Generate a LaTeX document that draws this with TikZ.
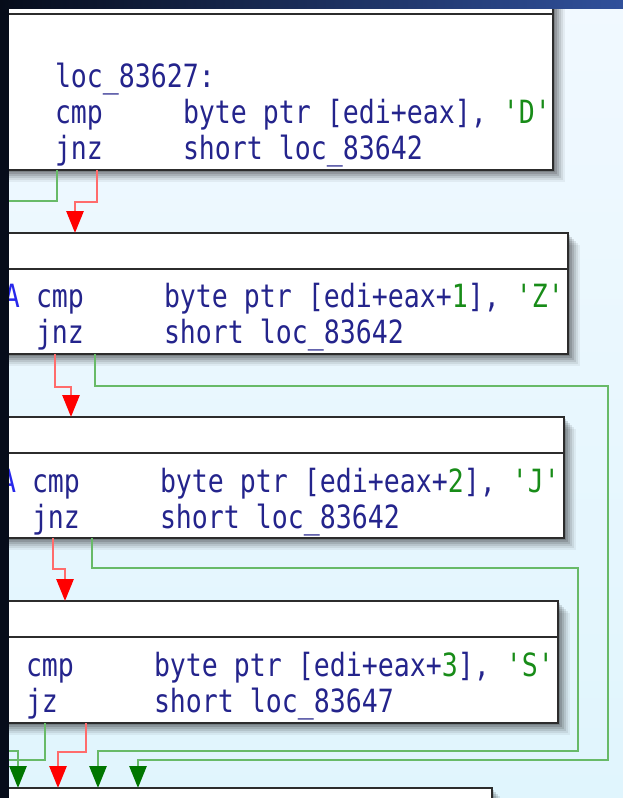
\documentclass[tikz,border=0pt]{standalone}
\usepackage{fontspec}
\usetikzlibrary{arrows.meta,calc,shadows}
\newfontfamily\asmfont[FakeStretch=0.83]{DejaVu Sans Mono}

\definecolor{bgtop}{RGB}{241,249,255}
\definecolor{bgbot}{RGB}{224,245,253}
\definecolor{navytxt}{RGB}{36,36,140}
\definecolor{immgreen}{RGB}{24,140,24}
\definecolor{lblblue}{RGB}{40,40,235}
\definecolor{edgegreen}{RGB}{104,186,104}
\definecolor{edgered}{RGB}{255,108,108}
\definecolor{tipgreen}{RGB}{0,118,0}
\definecolor{tipred}{RGB}{255,0,0}
\definecolor{framegray}{RGB}{44,44,44}
\definecolor{stripdark}{RGB}{6,12,26}
\definecolor{stripmid}{RGB}{14,32,82}
\definecolor{striplight}{RGB}{48,80,155}

% immediate operands are printed in green
\newcommand\imm[1]{{\color{immgreen}#1}}

\begin{document}
\begin{tikzpicture}[x=1pt,y=-1pt,
  blockbox/.style={rectangle, anchor=north west, draw=framegray, line width=2.6pt,
    fill=white, inner sep=0pt, outer sep=0pt,
    general shadow={draw=none, fill=black, opacity=0.15, shadow xshift=2pt, shadow yshift=-2pt},
    general shadow={draw=none, fill=black, opacity=0.13, shadow xshift=4pt, shadow yshift=-4pt},
    general shadow={draw=none, fill=black, opacity=0.11, shadow xshift=6pt, shadow yshift=-6pt},
    general shadow={draw=none, fill=black, opacity=0.09, shadow xshift=8pt, shadow yshift=-8pt},
    general shadow={draw=none, fill=black, opacity=0.07, shadow xshift=10pt, shadow yshift=-10pt},
    general shadow={draw=none, fill=black, opacity=0.05, shadow xshift=12pt, shadow yshift=-12pt}},
  sepline/.style={draw=framegray, line width=2.4pt},
  asm/.style={anchor=base west, inner sep=0pt, outer sep=0pt, text=navytxt,
    font=\asmfont\fontsize{32}{36}\selectfont},
  gedge/.style={draw=edgegreen, line width=2.8pt,
    -{Triangle[width=17pt,length=22pt,color=tipgreen,fill=tipgreen]}},
  redge/.style={draw=edgered, line width=2.8pt,
    -{Triangle[width=17pt,length=22pt,color=tipred,fill=tipred]}},
  gexit/.style={draw=edgegreen, line width=2.8pt},
]
\useasboundingbox (0,0) rectangle (623,798);
\clip (0,0) rectangle (623,798);

% canvas
\shade[top color=bgtop, bottom color=bgbot] (0,0) rectangle (623,798);

% basic blocks
\node[blockbox, minimum width=573pt, minimum height=192pt] (b1) at (-20,-22) {};
\node[blockbox, minimum width=588pt, minimum height=121pt] (b2) at (-20,233) {};
\node[blockbox, minimum width=584pt, minimum height=121pt] (b3) at (-20,417) {};
\node[blockbox, minimum width=578pt, minimum height=122pt] (b4) at (-20,601) {};
\node[blockbox, minimum width=512pt, minimum height=60pt]  (b5) at (-20,788) {};

% header separators
\foreach \b in {b1,b2,b3,b4}
  \draw[sepline] ($(\b.north west)+(0,36)$) -- ($(\b.north east)+(0,36)$);

% block 1
\node[asm] (l1) at (55,87)  {loc\_83627:};
\node[asm] (c1) at (55,123) {cmp};
\node[asm] (o1) at (183,123) {byte ptr [edi+eax], \imm{'D'}};
\node[asm] (j1) at (55,159) {jnz};
\node[asm] (t1) at (183,159) {short loc\_83642};

% block 2
\node[asm, text=lblblue] (a2) at (4,307) {A};
\node[asm] (c2) at (36,307) {cmp};
\node[asm] (o2) at (164,307) {byte ptr [edi+eax+\imm{1}], \imm{'Z'}};
\node[asm] (j2) at (36,343) {jnz};
\node[asm] (t2) at (164,343) {short loc\_83642};

% block 3
\node[asm, text=lblblue] (a3) at (0,492) {A};
\node[asm] (c3) at (32,492) {cmp};
\node[asm] (o3) at (160,492) {byte ptr [edi+eax+\imm{2}], \imm{'J'}};
\node[asm] (j3) at (32,528) {jnz};
\node[asm] (t3) at (160,528) {short loc\_83642};

% block 4
\node[asm] (c4) at (26,676) {cmp};
\node[asm] (o4) at (154,676) {byte ptr [edi+eax+\imm{3}], \imm{'S'}};
\node[asm] (j4) at (26,712) {jz};
\node[asm] (t4) at (154,712) {short loc\_83647};

% free ends leaving to the left
\coordinate (out1) at (0,201);
\coordinate (out4) at (0,760);
\coordinate (in5)  at (0,751);

% edges
\draw[gexit] (57,0 |- b1.south) |- (out1);
\draw[redge] (97,0 |- b1.south) |- (75,202) -- (75,0 |- b2.north);

\draw[redge] (55,0 |- b2.south) |- (71,387) -- (71,0 |- b3.north);
\draw[gedge] (95,0 |- b2.south) |- (608,386) |- (138,760) -- (138,0 |- b5.north);

\draw[redge] (53,0 |- b3.south) |- (65,569) -- (65,0 |- b4.north);
\draw[gedge] (92,0 |- b3.south) |- (578,568) |- (98,751) -- (98,0 |- b5.north);

\draw[gexit] (45,0 |- b4.south) |- (out4);
\draw[redge] (86,0 |- b4.south) |- (58,752) -- (58,0 |- b5.north);
\draw[gedge] (in5) -| (18,0 |- b5.north);

% window frame strips
\fill[stripdark] (0,0) rectangle (8.5,798);
\shade[left color=stripdark, middle color=stripmid, right color=striplight] (0,0) rectangle (623,8);
\end{tikzpicture}
\end{document}
